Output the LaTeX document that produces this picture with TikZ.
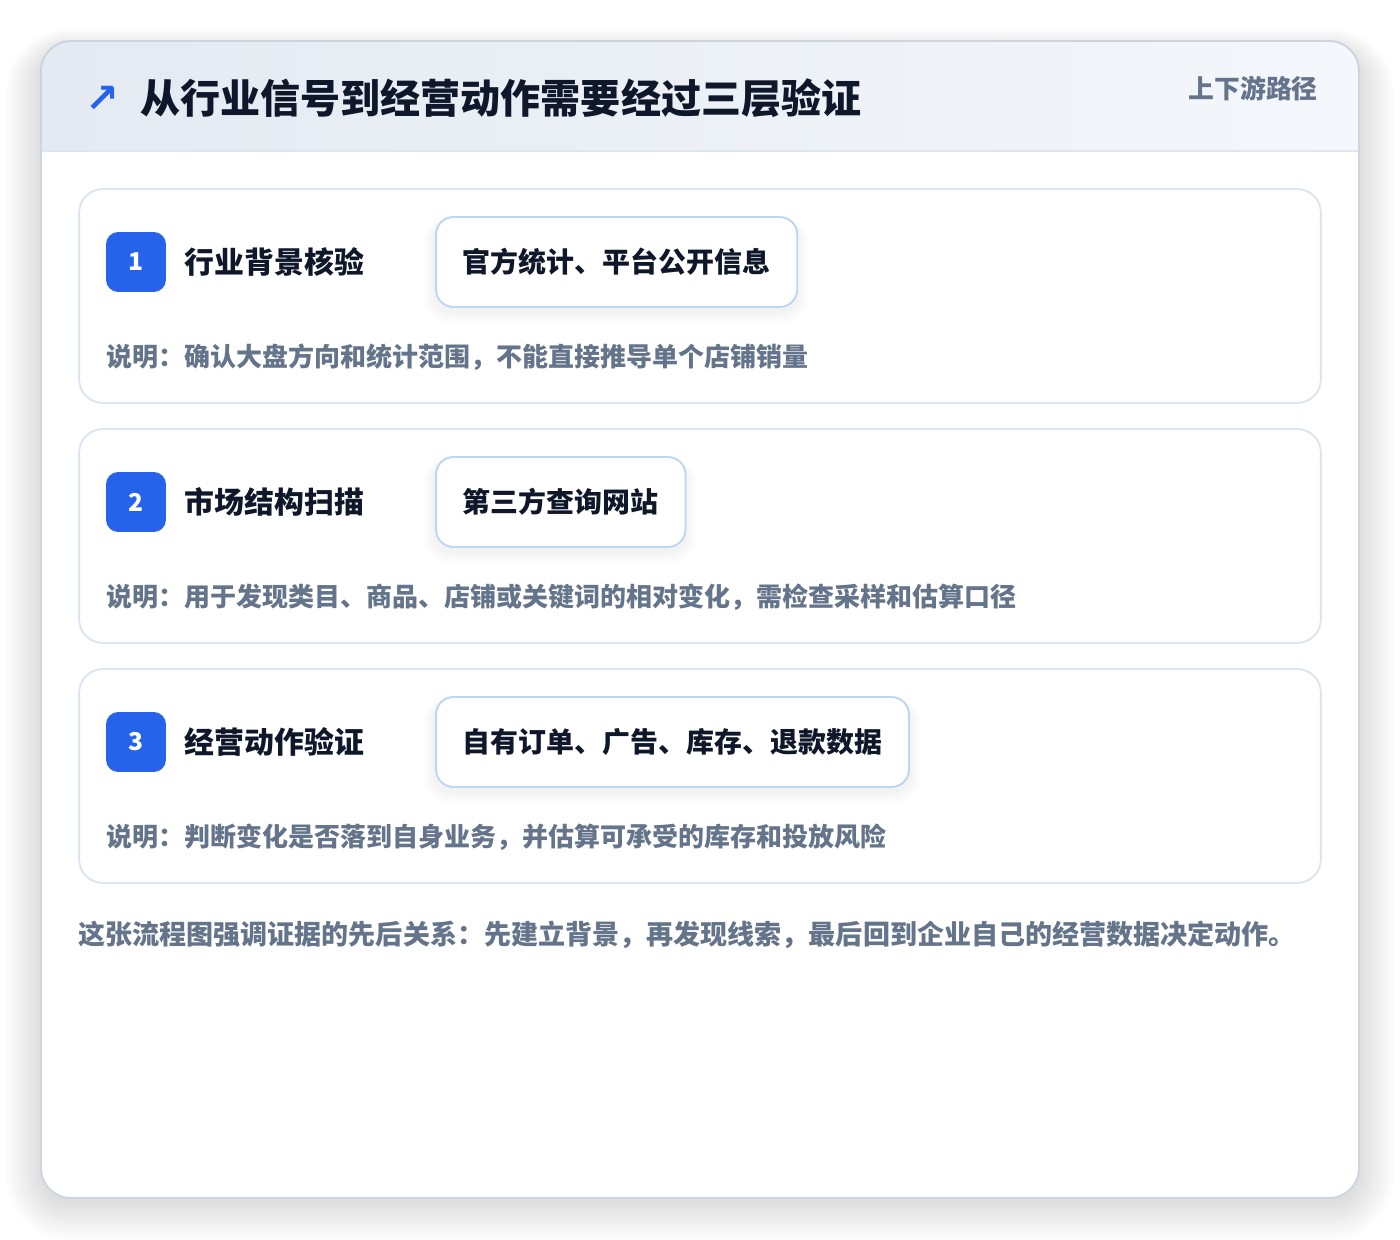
\documentclass[tikz,border=0pt]{standalone}
\usepackage{fontspec}
\setmainfont{Noto Sans CJK SC}
\newfontfamily\symfont{DejaVu Sans}
\definecolor{cardline}{RGB}{219, 230, 243}
\definecolor{outerline}{RGB}{203, 213, 225}
\definecolor{badgeblue}{RGB}{37, 99, 235}
\definecolor{inkdark}{RGB}{15, 23, 42}
\definecolor{inkgray}{RGB}{100, 116, 139}
\definecolor{pillline}{RGB}{191, 214, 243}
\definecolor{headleft}{RGB}{228, 234, 242}
\definecolor{headright}{RGB}{244, 247, 251}
\usetikzlibrary{positioning}

\begin{document}
\begin{tikzpicture}[x=0.02cm, y=-0.02cm,
  card/.style={draw=cardline, fill=white, line width=1.1pt, rounded corners=13.5pt,
    minimum width=24.84cm, minimum height=4.28cm, inner sep=0pt},
  badge/.style={fill=badgeblue, rounded corners=7pt, minimum size=1.2cm, inner sep=0pt,
    text=white, font=\fontsize{14}{16}\selectfont\bfseries},
  steptitle/.style={anchor=west, inner sep=0pt, text=inkdark, font=\fontsize{17}{20}\selectfont\bfseries},
  pill/.style={anchor=west, draw=pillline, fill=white, line width=1.1pt, rounded corners=10pt,
    minimum height=1.8cm, inner xsep=0.54cm, text=inkdark, font=\fontsize{15.9}{19}\selectfont\bfseries},
  note/.style={anchor=west, inner sep=0pt, text=inkgray, font=\fontsize{14.8}{17}\selectfont\bfseries}]
  \useasboundingbox (0,0) rectangle (1400,1240);
  % soft shadow of the panel
  \foreach \i in {1,...,16}
    \fill[black, opacity=0.0065, rounded corners={17pt+\i*1.2pt}]
      ({41-\i*2.2},{41-\i*1.4+10}) rectangle ({1359+\i*2.2},{1198+\i*2.4+4});
  \fill[white, rounded corners=17pt] (41,41) rectangle (1359,1198);
  \begin{scope}
    \clip[rounded corners=17pt] (41,41) rectangle (1359,1198);
    \shade[left color=headleft, right color=headright] (41,41) rectangle (1359,151);
  \end{scope}
  \draw[cardline, line width=1.1pt] (41,151) -- (1359,151);
  \draw[outerline, line width=1.1pt, rounded corners=17pt] (41,41) rectangle (1359,1198);

  % header
  \node[inner sep=0pt, text=badgeblue, font=\fontsize{23}{26}\selectfont\symfont\bfseries] (icon) at (102,99) {↗};
  \node[anchor=west, inner sep=0pt, text=inkdark, font=\fontsize{22.8}{27}\selectfont\bfseries] (title) at (140,98)
    {从行业信号到经营动作需要经过三层验证};
  \node[anchor=east, inner sep=0pt, text=inkgray, font=\fontsize{14.7}{17}\selectfont\bfseries] (tag) at (1318,89)
    {上下游路径};

  % step cards
  \node[card] (card1) at (700,296) {};
  \node[card] (card2) at (700,536) {};
  \node[card] (card3) at (700,776) {};

  % pill shadows
  \foreach \py/\pw in {262/362, 502/250, 742/474}
    \foreach \i in {1,...,6}
      \fill[black, opacity=0.006, rounded corners={10pt+\i*1pt}]
        ({435-\i*2},{\py-45-\i*1+6}) rectangle ({435+\pw+\i*2},{\py+45+\i*2+4});

  \node[badge] (badge1) at (136,262) {1};
  \node[steptitle, right=0.36cm of badge1] (head1) {行业背景核验};
  \node[pill] (src1) at (435,262) {官方统计、平台公开信息};
  \node[note] (note1) at (106,357) {说明：确认大盘方向和统计范围，不能直接推导单个店铺销量};

  \node[badge] (badge2) at (136,502) {2};
  \node[steptitle, right=0.36cm of badge2] (head2) {市场结构扫描};
  \node[pill] (src2) at (435,502) {第三方查询网站};
  \node[note] (note2) at (106,597) {说明：用于发现类目、商品、店铺或关键词的相对变化，需检查采样和估算口径};

  \node[badge] (badge3) at (136,742) {3};
  \node[steptitle, right=0.36cm of badge3] (head3) {经营动作验证};
  \node[pill] (src3) at (435,742) {自有订单、广告、库存、退款数据};
  \node[note] (note3) at (106,837) {说明：判断变化是否落到自身业务，并估算可承受的库存和投放风险};

  % closing remark
  \node[anchor=west, inner sep=0pt, text=inkgray, font=\fontsize{15.4}{18}\selectfont\bfseries] (summary) at (78,935)
    {这张流程图强调证据的先后关系：先建立背景，再发现线索，最后回到企业自己的经营数据决定动作。};
\end{tikzpicture}
\end{document}
